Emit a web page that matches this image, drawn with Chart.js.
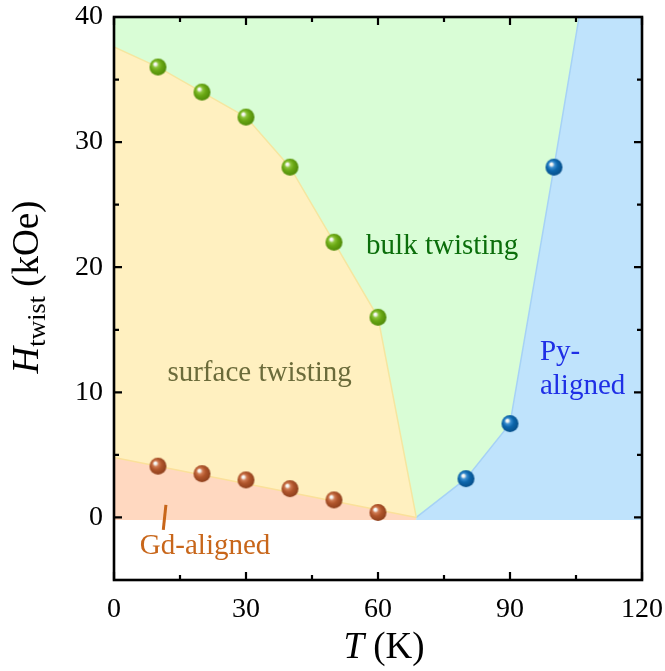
<!DOCTYPE html>
<html>
<head>
<meta charset="utf-8">
<script src="https://cdn.jsdelivr.net/npm/chart.js@4/dist/chart.umd.min.js"></script>
<style>
html,body{margin:0;padding:0;background:#fff;}
canvas{display:block;}
</style>
</head>
<body>
<canvas id="c" width="665" height="671"></canvas>
<script>
// ---- data ----
const xTicks = [0, 30, 60, 90, 120];
const yTicks = [0, 10, 20, 30, 40];
const xMinorTicks = [15, 45, 75, 105];
const yMinorTicks = [5, 15, 25, 35];

const bulkT = [10, 20, 30, 40, 50, 60];
const bulkH = [36, 34, 32, 28, 22, 16];
const gdT = [10, 20, 30, 40, 50, 60];
const gdH = [4.1, 3.5, 3.0, 2.3, 1.4, 0.4];
const pyT = [80, 90, 100];
const pyH = [3.1, 7.5, 28];

// phase boundaries
const surfBoundT = [0, 10, 20, 30, 40, 50, 60, 68.7];
const surfBoundH = [37.6, 36, 34, 32, 28, 22, 16, 0];
const gdBoundT = [0, 68.7];
const gdBoundH = [4.8, 0];
const pyBoundT = [68.7, 80, 90, 100, 105.7];
const pyBoundH = [0, 3.1, 7.5, 28, 40];
const floorH = -0.2;
const tMin = 0, tMax = 120, hMin = -5, hMax = 40;

const regionLabels = ['surface twisting', 'bulk twisting', 'Py-', 'aligned', 'Gd-aligned'];
const gdPointerT = [11.8, 11.2];
const gdPointerH = [1.0, -1.0];

// ---- helpers ----
const pts = (xs, ys) => xs.map((v, i) => ({x: v, y: ys[i]}));
const SERIF = '"Liberation Serif", "DejaVu Serif", serif';

function sphere(light, base, dark, r) {
  const s = Math.ceil(2 * r + 2);
  const c = document.createElement('canvas');
  c.width = c.height = s;
  const g = c.getContext('2d');
  const cx = s / 2, cy = s / 2;
  const grad = g.createRadialGradient(cx - 0.35 * r, cy - 0.38 * r, 0, cx - 0.1 * r, cy - 0.1 * r, r * 1.1);
  grad.addColorStop(0, '#ffffff');
  grad.addColorStop(0.14, '#f4f4f0');
  grad.addColorStop(0.32, light);
  grad.addColorStop(0.58, base);
  grad.addColorStop(1, dark);
  g.fillStyle = grad;
  g.beginPath();
  g.arc(cx, cy, r, 0, Math.PI * 2);
  g.fill();
  return c;
}

// polygons built from boundaries
const bulkPoly = pts([tMin, tMin, tMax + 1, tMax + 1], [floorH, hMax, hMax, floorH]);
const surfPoly = pts([0].concat(surfBoundT, [68.7]), [gdBoundH[0]].concat(surfBoundH, [floorH]))
  .concat([{x: 0, y: floorH}]);
const gdPoly = pts([0, 0, gdBoundT[1], gdBoundT[1]], [floorH, gdBoundH[0], gdBoundH[1], floorH]);
const pyPoly = pts(pyBoundT.concat([tMax + 1, tMax + 1, pyBoundT[0]]), pyBoundH.concat([hMax, floorH, floorH]));

function area(data, color, order) {
  return {data, showLine: true, fill: 'shape', backgroundColor: color, borderColor: color,
    borderWidth: 0, pointRadius: 0, tension: 0, order};
}
function line(data, color, width, order) {
  return {data, showLine: true, fill: false, borderColor: color, borderWidth: width,
    pointRadius: 0, tension: 0, order};
}
function balls(data, img, order) {
  return {data, showLine: false, pointStyle: img, pointRadius: 9, order};
}

const framePlugin = {
  id: 'frame',
  afterDatasetsDraw(chart) {
    const {ctx, scales: {x, y}} = chart;
    ctx.save();
    ctx.textBaseline = 'middle';
    ctx.font = '29px ' + SERIF;
    const lab = [
      {t: regionLabels[0], x: 33.1, y: 11.5, c: '#6b6b3a', al: 'center'},
      {t: regionLabels[1], x: 74.6, y: 21.7, c: '#0b6e0b', al: 'center'},
      {t: regionLabels[2], x: 96.8, y: 13.2, c: '#1f2fe6', al: 'left'},
      {t: regionLabels[3], x: 96.8, y: 10.5, c: '#1f2fe6', al: 'left'},
      {t: regionLabels[4], x: 20.7, y: -2.3, c: '#c8661a', al: 'center'}
    ];
    lab.forEach(l => {
      ctx.fillStyle = l.c;
      ctx.textAlign = l.al;
      ctx.fillText(l.t, x.getPixelForValue(l.x), y.getPixelForValue(l.y));
    });
    ctx.restore();
  },
  afterDraw(chart) {
    const {ctx, chartArea: a, scales: {x, y}} = chart;
    ctx.save();
    ctx.strokeStyle = '#000';
    ctx.lineWidth = 2.6;
    ctx.strokeRect(a.left, a.top, a.right - a.left, a.bottom - a.top);
    ctx.lineWidth = 2.2;
    const tick = (arr, len) => {
      arr.forEach(v => {
        const px = x.getPixelForValue(v);
        ctx.beginPath();
        ctx.moveTo(px, a.bottom); ctx.lineTo(px, a.bottom - len);
        ctx.moveTo(px, a.top); ctx.lineTo(px, a.top + len);
        ctx.stroke();
      });
    };
    const tickY = (arr, len) => {
      arr.forEach(v => {
        const py = y.getPixelForValue(v);
        ctx.beginPath();
        ctx.moveTo(a.left, py); ctx.lineTo(a.left + len, py);
        ctx.moveTo(a.right, py); ctx.lineTo(a.right - len, py);
        ctx.stroke();
      });
    };
    tick(xTicks, 8); tick(xMinorTicks, 5);
    tickY(yTicks, 8); tickY(yMinorTicks, 5);

    // axis titles
    ctx.fillStyle = '#000';
    ctx.textBaseline = 'alphabetic';
    ctx.textAlign = 'left';
    const fI = 'italic 37px ' + SERIF, fN = '37px ' + SERIF;
    ctx.font = fI; const wT = ctx.measureText('T').width;
    ctx.font = fN; const wK = ctx.measureText(' (K)').width;
    let sx = 384 - (wT + wK) / 2;
    ctx.font = fI; ctx.fillText('T', sx, 658);
    ctx.font = fN; ctx.fillText(' (K)', sx + wT, 658);
    const fS = '26px ' + SERIF;
    ctx.font = fI; const wH = ctx.measureText('H').width;
    ctx.font = fS; const wS = ctx.measureText('twist').width;
    ctx.font = fN; const wU = ctx.measureText(' (kOe)').width;
    ctx.translate(38, 287);
    ctx.rotate(-Math.PI / 2);
    let t = -(wH + wS + wU) / 2;
    ctx.font = fI; ctx.fillText('H', t, 0); t += wH;
    ctx.font = fS; ctx.fillText('twist', t, 7); t += wS;
    ctx.font = fN; ctx.fillText(' (kOe)', t, 0);
    ctx.restore();
  }
};

const greenBall = sphere('#8cc43a', '#6aa814', '#4f8a08', 8.5);
const brownBall = sphere('#cf7a52', '#b0552b', '#8e3f1c', 8.5);
const blueBall = sphere('#3a8ed0', '#0c66ac', '#064f8a', 8.5);

new Chart(document.getElementById('c'), {
  type: 'scatter',
  data: {
    datasets: [
      area(bulkPoly, '#d9fdd6', 20),
      area(surfPoly, '#fff0c0', 19),
      area(gdPoly, '#ffd8c0', 18),
      area(pyPoly, '#bfe3fc', 17),
      line(pts(surfBoundT, surfBoundH), '#f5e6a0', 1.5, 15),
      line(pts(gdBoundT, gdBoundH), '#fbe09a', 1.5, 15),
      line(pts(pyBoundT, pyBoundH), '#a6d2f6', 1.5, 15),
      line(pts(gdPointerT, gdPointerH), '#c8661a', 3, 14),
      balls(pts(bulkT, bulkH), greenBall, 3),
      balls(pts(gdT, gdH), brownBall, 2),
      balls(pts(pyT, pyH), blueBall, 1)
    ]
  },
  options: {
    responsive: false,
    devicePixelRatio: 1,
    animation: false,
    events: [],
    layout: {padding: {left: 0, right: 23, top: 17, bottom: 0}},
    plugins: {legend: {display: false}, tooltip: {enabled: false}},
    scales: {
      x: {
        type: 'linear', min: tMin, max: tMax,
        afterBuildTicks(s) { s.ticks = xTicks.map(v => ({value: v})); },
        afterFit(s) { s.height = 91; s.paddingLeft = 0; s.paddingRight = 0; },
        ticks: {font: {family: SERIF, size: 28}, color: '#000', padding: 13, maxRotation: 0},
        grid: {display: false, drawTicks: false}, border: {display: false}
      },
      y: {
        type: 'linear', min: hMin, max: hMax,
        afterBuildTicks(s) { s.ticks = yTicks.map(v => ({value: v})); },
        afterFit(s) { s.width = 114; s.paddingTop = 0; s.paddingBottom = 0; },
        ticks: {font: {family: SERIF, size: 28}, color: '#000', padding: 11},
        grid: {display: false, drawTicks: false}, border: {display: false}
      }
    }
  },
  plugins: [framePlugin]
});
</script>
</body>
</html>
